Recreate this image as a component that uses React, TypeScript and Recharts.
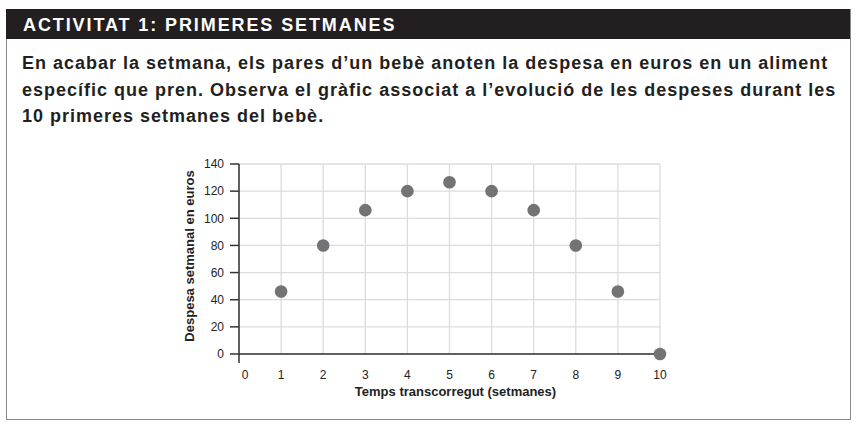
import React from 'react';
import { ScatterChart, Scatter, XAxis, YAxis, CartesianGrid, Label } from 'recharts';

const weeks = [1, 2, 3, 4, 5, 6, 7, 8, 9, 10];
const spending = [46, 80, 106, 120, 126.5, 120, 106, 80, 46, 0];
const xTicks = [0, 1, 2, 3, 4, 5, 6, 7, 8, 9, 10];
const yTicks = [0, 20, 40, 60, 80, 100, 120, 140];

const headerTitle = 'ACTIVITAT 1: PRIMERES SETMANES';
const introLines = [
  'En acabar la setmana, els pares d’un bebè anoten la despesa en euros en un aliment',
  'específic que pren. Observa el gràfic associat a l’evolució de les despeses durant les',
  '10 primeres setmanes del bebè.',
];
const xTitle = 'Temps transcorregut (setmanes)';
const yTitle = 'Despesa setmanal en euros';

const data = weeks.map((w, i) => ({ week: w, value: spending[i] }));

const FONT = '"Liberation Sans", Arial, Helvetica, sans-serif';

const XTick = (props: any) => {
  const { x, y, payload } = props;
  const isZero = payload.value === 0;
  return (
    <g>
      {isZero && <line x1={x} x2={x} y1={y - 16} y2={y - 7} stroke="#333" strokeWidth={1.5} />}
      <text x={x + (isZero ? 6 : 0)} y={y} dy="0.71em" textAnchor="middle" fontSize={12} fill="#222" fontFamily={FONT}>
        {payload.value}
      </text>
    </g>
  );
};

const Dot = (props: any) => <circle cx={props.cx} cy={props.cy} r={6.3} fill="#737375" />;

export default function App() {
  return (
    <div style={{ position: 'absolute', left: 0, top: 0, width: 857, height: 432, background: '#fff', fontFamily: FONT }}>
      <div style={{ position: 'absolute', left: 6, top: 9, width: 843, height: 410, borderLeft: '1.5px solid #8a8a8a', borderRight: '1.5px solid #8a8a8a', borderBottom: '1.5px solid #8a8a8a' }} />
      <div style={{ position: 'absolute', left: 6, top: 9, width: 844, height: 30, background: '#231f20' }} />
      <div style={{ position: 'absolute', left: 23, top: 10, height: 30, lineHeight: '30px', color: '#fff', fontWeight: 700, fontSize: 18, letterSpacing: 1.9, whiteSpace: 'nowrap' }}>
        {headerTitle}
      </div>
      {introLines.map((line, i) => (
        <div key={i} style={{ position: 'absolute', left: 22, top: 51 + i * 26.5, lineHeight: '24px', fontSize: 18, letterSpacing: 1, fontWeight: 700, color: '#231f20', whiteSpace: 'nowrap' }}>
          {line}
        </div>
      ))}
      <div style={{ position: 'absolute', left: 0, top: 0 }}>
        <ScatterChart width={857} height={432} margin={{ top: 164, right: 197, left: 180, bottom: 48 }}>
          <CartesianGrid stroke="#dcdcdc" strokeWidth={1.3} horizontalValues={yTicks} verticalValues={xTicks} />
          <XAxis
            type="number"
            dataKey="week"
            domain={[0, 10]}
            ticks={xTicks}
            interval={0}
            height={30}
            axisLine={{ stroke: '#333', strokeWidth: 1.5 }}
            tickLine={false}
            tickSize={6}
            tickMargin={10}
            tick={<XTick />}
          >
            <Label value={xTitle} position="bottom" offset={3} dx={6} style={{ fontSize: 13, fontWeight: 700, fill: '#222', fontFamily: FONT }} />
          </XAxis>
          <YAxis
            type="number"
            dataKey="value"
            domain={[0, 140]}
            ticks={yTicks}
            interval={0}
            width={59}
            axisLine={{ stroke: '#333', strokeWidth: 1.5 }}
            tickLine={{ stroke: '#333', strokeWidth: 1.5 }}
            tickSize={9}
            tickMargin={6}
            tick={{ fontSize: 12, fill: '#222', fontFamily: FONT }}
          >
            <Label value={yTitle} angle={-90} position="insideLeft" offset={9} dy={-3} style={{ fontSize: 13, fontWeight: 700, fill: '#222', fontFamily: FONT, textAnchor: 'middle' }} />
          </YAxis>
          <Scatter data={data} shape={<Dot />} isAnimationActive={false} />
        </ScatterChart>
      </div>
    </div>
  );
}
